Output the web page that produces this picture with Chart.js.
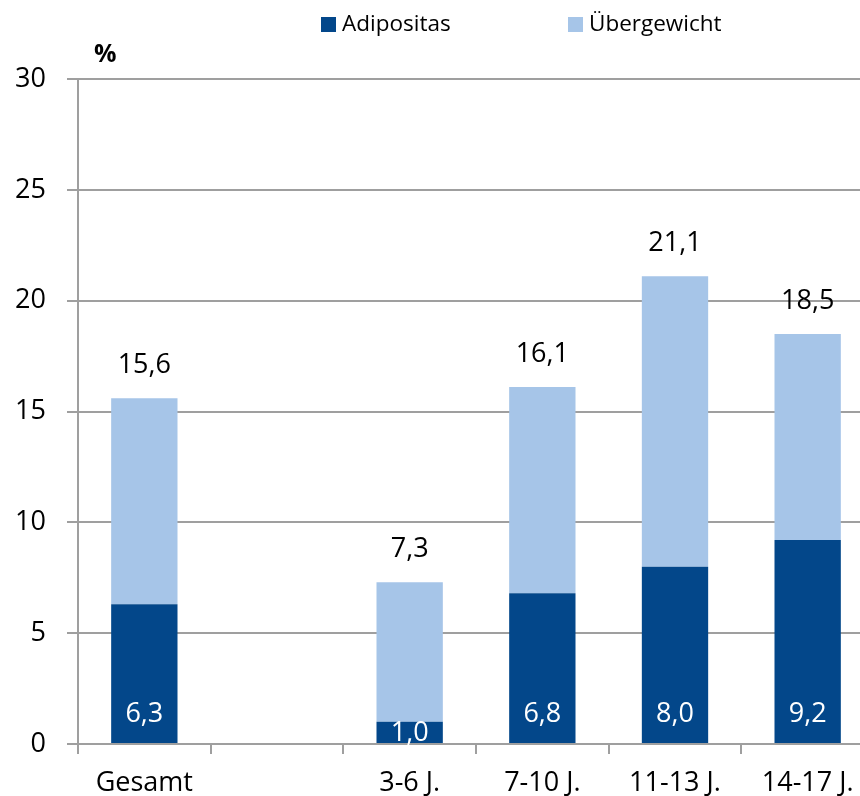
<!DOCTYPE html>
<html>
<head>
<meta charset="utf-8">
<script src="https://cdn.jsdelivr.net/npm/chart.js@4/dist/chart.umd.min.js"></script>
<style>
  html, body { margin: 0; padding: 0; background: #fff; overflow: hidden; }
  #wrap { position: relative; width: 874px; height: 796px; }
</style>
</head>
<body>
<div id="wrap"><canvas id="c"></canvas></div>
<script>
// Anteil übergewichtiger und adipöser Kinder und Jugendlicher (%)
const categories   = ['Gesamt', '', '3-6 J.', '7-10 J.', '11-13 J.', '14-17 J.'];
const adipositas   = [6.3, null, 1.0, 6.8, 8.0, 9.2];
const uebergewicht = [9.3, null, 6.3, 9.3, 13.1, 9.3];
const yTickValues  = [0, 5, 10, 15, 20, 25, 30];
const seriesNames  = ['Adipositas', 'Übergewicht'];
const unitLabel    = '%';

const COLORS = ['#03478A', '#A6C5E8'];
const GRID = '#9f9f9f';
const FONT = "'Open Sans', 'Noto Sans', sans-serif";

const fmt = v => v.toFixed(1).replace('.', ',');

// Wertbeschriftungen: Adipositas weiß im Balkenfuß, Summe schwarz über dem Balken
const valueLabels = {
  id: 'valueLabels',
  afterDatasetsDraw(chart) {
    const ctx = chart.ctx;
    const inner = chart.getDatasetMeta(0);
    const outer = chart.getDatasetMeta(1);
    ctx.save();
    ctx.font = '27px ' + FONT;
    ctx.textAlign = 'center';
    inner.data.forEach((el, i) => {
      const v = chart.data.datasets[0].data[i];
      if (v == null) return;
      const cy = Math.max(el.base - 30, (el.y + el.base) / 2);
      ctx.fillStyle = '#ffffff';
      ctx.textBaseline = 'middle';
      ctx.fillText(fmt(v), el.x, cy + 1);
    });
    outer.data.forEach((el, i) => {
      const a = chart.data.datasets[0].data[i];
      const b = chart.data.datasets[1].data[i];
      if (a == null || b == null) return;
      ctx.fillStyle = '#000000';
      ctx.textBaseline = 'alphabetic';
      ctx.fillText(fmt(Math.round((a + b) * 10) / 10), el.x, el.y - 25);
    });
    ctx.restore();
  }
};

// Legende oben und Einheit über der y-Achse
const headerPlugin = {
  id: 'header',
  afterDraw(chart) {
    const ctx = chart.ctx;
    const items = [{ box: 321, text: 342 }, { box: 568, text: 589 }];
    ctx.save();
    ctx.font = '22.5px ' + FONT;
    ctx.textBaseline = 'middle';
    ctx.textAlign = 'left';
    chart.data.datasets.forEach((ds, i) => {
      ctx.fillStyle = ds.backgroundColor;
      ctx.fillRect(items[i].box, 17, 15, 15);
      ctx.fillStyle = '#000';
      ctx.fillText(ds.label, items[i].text, 25);
    });
    ctx.font = 'bold 25px ' + FONT;
    ctx.textBaseline = 'alphabetic';
    ctx.fillText(unitLabel, 94, 62);
    ctx.restore();
  }
};

new Chart(document.getElementById('c'), {
  type: 'bar',
  data: {
    labels: categories,
    datasets: [
      { label: seriesNames[0], data: adipositas, backgroundColor: COLORS[0] },
      { label: seriesNames[1], data: uebergewicht, backgroundColor: COLORS[1] }
    ]
  },
  options: {
    responsive: true,
    maintainAspectRatio: false,
    animation: false,
    devicePixelRatio: 1,
    layout: { padding: { top: 79, right: 0, bottom: 0, left: 0 } },
    datasets: { bar: { categoryPercentage: 0.5, barPercentage: 1.0, borderWidth: 0 } },
    plugins: { legend: { display: false }, tooltip: { enabled: false } },
    scales: {
      x: {
        stacked: true,
        afterFit: s => { s.height = 52; },
        grid: { offset: true, drawOnChartArea: false, drawTicks: true, tickLength: 10, color: GRID, lineWidth: 2 },
        border: { display: true, color: GRID, width: 2 },
        ticks: { autoSkip: false, maxRotation: 0, padding: 13, color: '#000', font: { family: FONT, size: 27 } }
      },
      y: {
        stacked: true,
        min: 0,
        max: 30,
        afterFit: s => { s.width = 78; },
        afterBuildTicks: s => { s.ticks = yTickValues.map(v => ({ value: v })); },
        grid: { color: GRID, lineWidth: 2, tickLength: 11 },
        border: { display: true, color: GRID, width: 2 },
        ticks: { padding: 21, color: '#000', font: { family: FONT, size: 27 } }
      }
    }
  },
  plugins: [valueLabels, headerPlugin]
});
</script>
</body>
</html>
